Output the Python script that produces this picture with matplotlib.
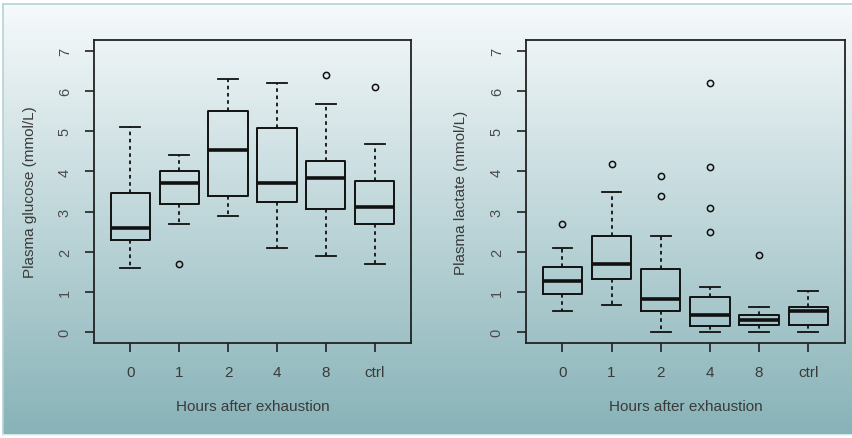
import numpy as np
import matplotlib
matplotlib.use("Agg")
import matplotlib.pyplot as plt
from matplotlib import font_manager

groups = ["0", "1", "2", "4", "8", "ctrl"]

# plasma glucose (mmol/L)
glu_whislo = [1.6, 2.7, 2.9, 2.1, 1.9, 1.7]
glu_q1 = [2.3, 3.2, 3.4, 3.23, 3.07, 2.7]
glu_med = [2.58, 3.72, 4.54, 3.72, 3.84, 3.12]
glu_q3 = [3.46, 4.0, 5.51, 5.09, 4.25, 3.76]
glu_whishi = [5.1, 4.4, 6.3, 6.2, 5.68, 4.68]
glu_fliers = [[], [1.7], [], [], [6.4], [6.1]]

# plasma lactate (mmol/L), right panel
lac_whislo = [0.51, 0.68, 0.0, 0.0, 0.0, 0.0]
lac_q1 = [0.95, 1.31, 0.51, 0.14, 0.18, 0.18]
lac_med = [1.26, 1.69, 0.83, 0.41, 0.30, 0.51]
lac_q3 = [1.61, 2.39, 1.57, 0.88, 0.41, 0.61]
lac_whishi = [2.1, 3.5, 2.39, 1.11, 0.61, 1.01]
lac_fliers = [[2.7], [4.19], [3.89, 3.39], [6.21, 4.11, 3.09, 2.5], [1.91], []]

names = {f.name for f in font_manager.fontManager.ttflist}
if "Liberation Sans Narrow" in names:
    fam, fs = "Liberation Sans Narrow", 13
else:
    fam, fs = "Liberation Sans", 11
plt.rcParams["font.family"] = [fam, "DejaVu Sans"]
txt_col = "#3a3a3a"


def make_stats(lo, q1, med, q3, hi, fl):
    stats = []
    for i in range(len(groups)):
        stats.append(dict(whislo=lo[i], q1=q1[i], med=med[i], q3=q3[i],
                          whishi=hi[i], fliers=np.array(fl[i]), label=groups[i]))
    return stats


def draw_panel(ax, stats, ylabel, ylab_x):
    ax.set_facecolor("none")
    ax.bxp(stats, positions=range(1, 7), widths=0.8, capwidths=0.4,
           boxprops=dict(color="#111111", linewidth=1.4),
           whiskerprops=dict(color="#111111", linewidth=1.3, linestyle=(0, (2, 2))),
           capprops=dict(color="#111111", linewidth=1.3),
           medianprops=dict(color="#111111", linewidth=2.6, solid_capstyle="butt"),
           flierprops=dict(marker="o", markerfacecolor="none", markeredgecolor="#111111",
                           markersize=4.5, markeredgewidth=1.1),
           manage_ticks=False)
    ax.set_xlim(0.26, 6.74)
    ax.set_ylim(-0.28, 7.28)
    ax.set_xticks(range(1, 7))
    ax.set_xticklabels(groups)
    ax.set_yticks(range(0, 8))
    ax.tick_params(axis="both", direction="out", length=6.5, width=1.2,
                   color="#222222", labelcolor=txt_col, labelsize=fs, pad=9.5)
    ax.tick_params(axis="y", labelrotation=90, labelcolor="#4a4a4a", labelsize=fs - 0.5)
    for lab in ax.get_yticklabels():
        lab.set_va("center")
    for sp in ax.spines.values():
        sp.set_color("#222222")
        sp.set_linewidth(1.3)
    ax.set_xlabel("Hours after exhaustion", fontsize=fs, color=txt_col)
    ax.set_ylabel(ylabel, fontsize=fs, color=txt_col)
    ax.xaxis.set_label_coords(0.5, -0.185)
    ax.yaxis.set_label_coords(ylab_x, 0.5)


fig = plt.figure(figsize=(8.52, 4.39), dpi=100)

# gradient background panel
bg = fig.add_axes([3 / 852, 3 / 439, 849 / 852, 431 / 439], zorder=-5)
grad = np.linspace(0, 1, 256).reshape(-1, 1)
top = np.array([0.965, 0.98, 0.985])
bot = np.array([0.53, 0.70, 0.72])
img = top + (bot - top) * grad[:, :, None]
bg.imshow(img, aspect="auto", extent=[0, 1, 0, 1], origin="upper")
bg.set_xticks([])
bg.set_yticks([])
for sp in bg.spines.values():
    sp.set_color("#b4d2d6")
    sp.set_linewidth(1.2)
bg.spines["right"].set_visible(False)
bg.spines["bottom"].set_color("#e8f1f2")

ax1 = fig.add_axes([94 / 852, 1 - 344 / 439, 317 / 852, 303 / 439])
ax2 = fig.add_axes([526 / 852, 1 - 344 / 439, 318.7 / 852, 303 / 439])

draw_panel(ax1, make_stats(glu_whislo, glu_q1, glu_med, glu_q3, glu_whishi, glu_fliers),
           "Plasma glucose (mmol/L)", -0.18)
draw_panel(ax2, make_stats(lac_whislo, lac_q1, lac_med, lac_q3, lac_whishi, lac_fliers),
           "Plasma lactate (mmol/L)", -0.182)

fig.savefig("out.png", dpi=100)
